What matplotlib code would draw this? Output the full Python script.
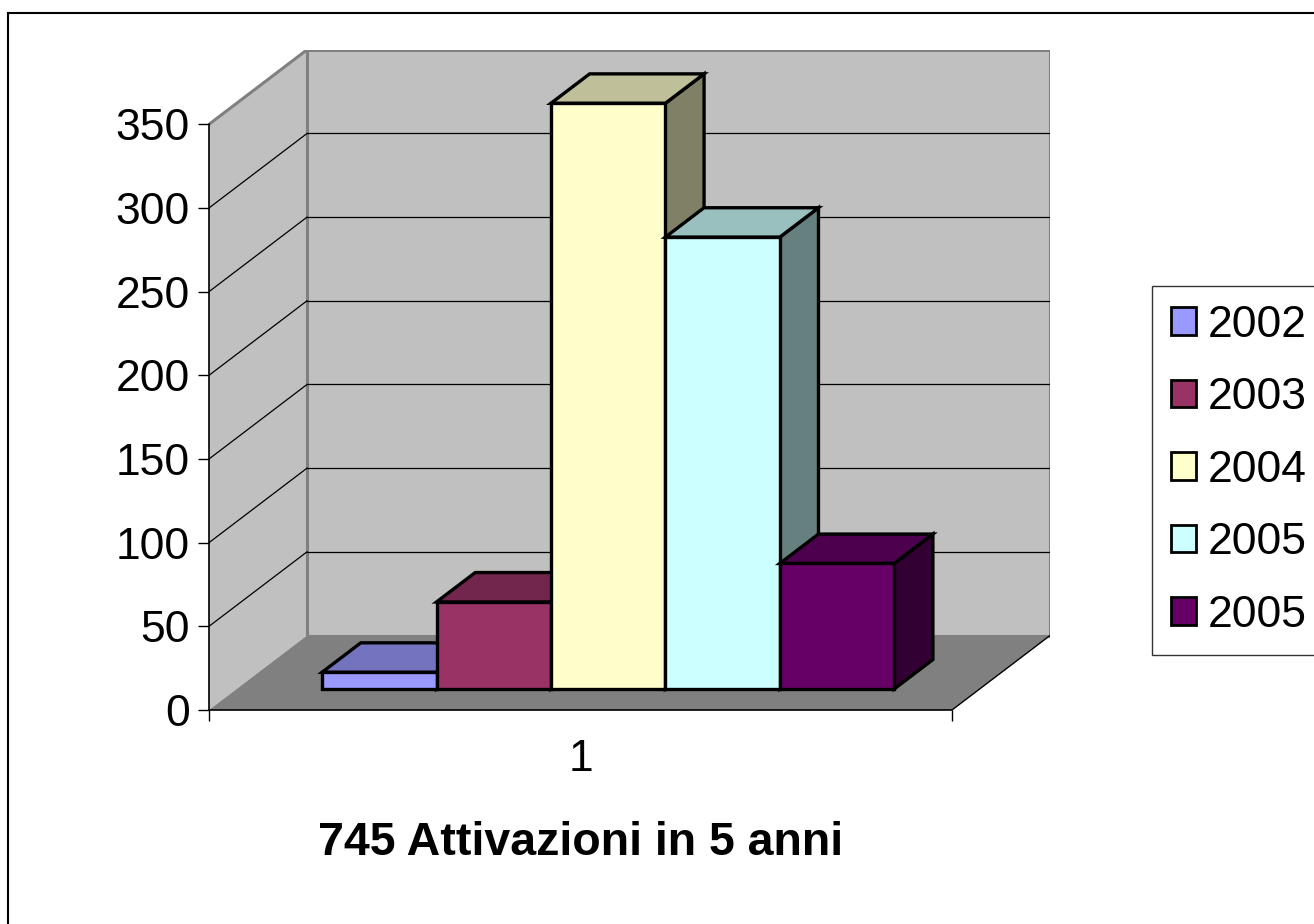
import matplotlib
matplotlib.use('Agg')
import matplotlib.pyplot as plt
from matplotlib.patches import Polygon, Patch
from matplotlib.lines import Line2D
from matplotlib.colors import to_rgb

# ---- data ----
years = ['2002', '2003', '2004', '2005', '2005']
values = [10, 52, 350, 270, 75]
colors = ['#9999FF', '#993366', '#FFFFCC', '#CCFFFF', '#660066']
yticks = [0, 50, 100, 150, 200, 250, 300, 350]
categories = ['1']
title = '745 Attivazioni in 5 anni'

plt.rcParams['font.family'] = ['Liberation Sans', 'DejaVu Sans']

W, H, DPI = 1314, 924, 100
fig = plt.figure(figsize=(W / DPI, H / DPI), dpi=DPI)
fig.patch.set_facecolor('white')

# layout (pixels)
X0, X1 = 209, 952
Y0, YTOP = 710, 124.3
DXP, DYP = 98, 74.5
VMAX = 350
ppv = (Y0 - YTOP) / VMAX
ppx = (X1 - X0) / 1.0
dx = DXP / ppx
dy = DYP / ppv

ax = fig.add_axes([X0 / W, 1 - Y0 / H, (X1 + DXP - X0) / W, (Y0 - YTOP + DYP) / H])
ax.set_xlim(0.5, 1.5 + dx)
ax.set_ylim(0, VMAX + dy)
ax.patch.set_visible(False)


def proj(x, v, f):
    return (x + f * dx, v + f * dy)


def shade(c, k):
    r, g, b = to_rgb(c)
    return (r * k, g * k, b * k)


WALL = '#C0C0C0'
FLOOR = '#808080'
GRAY = '#808080'

# walls
left_wall = Polygon([proj(0.5, 0, 0), proj(0.5, VMAX, 0), proj(0.5, VMAX, 1), proj(0.5, 0, 1)],
                    closed=True, facecolor=WALL, edgecolor='none', zorder=1)
ax.add_patch(left_wall)
back_wall = Polygon([proj(0.5, 0, 1), proj(1.5, 0, 1), proj(1.5, VMAX, 1), proj(0.5, VMAX, 1)],
                    closed=True, facecolor=WALL, edgecolor=GRAY, lw=2.2, zorder=1)
ax.add_patch(back_wall)
ax.plot(*zip(proj(0.5, VMAX, 0), proj(0.5, VMAX, 1)), color=GRAY, lw=2.2, zorder=1.5,
        solid_capstyle='projecting')
floor = Polygon([proj(0.5, 0, 0), proj(1.5, 0, 0), proj(1.5, 0, 1), proj(0.5, 0, 1)],
                closed=True, facecolor=FLOOR, edgecolor='none', zorder=2)
ax.add_patch(floor)
ax.plot(*zip(proj(1.5, 0, 0), proj(1.5, 0, 1)), color='black', lw=1, zorder=2.5)

# gridlines
for v in yticks[1:-1]:
    ax.plot(*zip(proj(0.5, v, 0), proj(0.5, v, 1)), color='black', lw=0.9, zorder=2.2)
    ax.plot(*zip(proj(0.5, v, 1), proj(1.5, v, 1)), color='black', lw=0.9, zorder=2.2)

# bars
GROUP = 0.77
bw = GROUP / len(values)
f0, f1 = 0.282, 0.677
for i, (v, c) in enumerate(zip(values, colors)):
    xl = 1 - GROUP / 2 + i * bw
    xr = xl + bw
    z = 3 + i * 0.1
    side = [proj(xr, 0, f0), proj(xr, 0, f1), proj(xr, v, f1), proj(xr, v, f0)]
    top = [proj(xl, v, f0), proj(xr, v, f0), proj(xr, v, f1), proj(xl, v, f1)]
    front = [proj(xl, 0, f0), proj(xr, 0, f0), proj(xr, v, f0), proj(xl, v, f0)]
    for pts, col in ((side, shade(c, 0.5)), (top, shade(c, 0.75)), (front, c)):
        ax.add_patch(Polygon(pts, closed=True, facecolor=col, edgecolor='black',
                             lw=2.4, joinstyle='miter', zorder=z))

# axes / ticks
for s in ('top', 'right'):
    ax.spines[s].set_visible(False)
ax.spines['left'].set_bounds(0, VMAX)
ax.spines['bottom'].set_bounds(0.5, 1.5)
ax.spines['left'].set_linewidth(1.2)
ax.spines['bottom'].set_linewidth(1.2)
ax.spines['left'].set_zorder(5)
ax.spines['bottom'].set_zorder(5)
ax.set_yticks(yticks)
ax.set_yticklabels([str(t) for t in yticks])
ax.tick_params(axis='y', direction='out', length=8, width=1, pad=6, labelsize=32)
ax.set_xticks([1])
ax.set_xticklabels(categories)
ax.set_xticks([0.5, 1.5], minor=True)
ax.tick_params(axis='x', which='major', length=0, pad=21, labelsize=32)
ax.tick_params(axis='x', which='minor', direction='out', length=8, width=1)

fig.text(581 / W, 1 - 855 / H, title, ha='center', va='baseline', fontsize=33.5,
         fontweight='bold')

# legend
handles = [Patch(facecolor=c, edgecolor='black', lw=2) for c in colors]
leg = fig.legend(handles, years, loc='upper left', bbox_to_anchor=(1152 / W, 1 - 286 / H),
                 fontsize=32, frameon=True, fancybox=False, borderpad=0.42,
                 handlelength=0.58, handleheight=0.58, handletextpad=0.25,
                 labelspacing=0.71, borderaxespad=0)
leg.get_frame().set_edgecolor('black')
leg.get_frame().set_linewidth(1)

# outer border (top and left visible)
fig.add_artist(Line2D([8 / W, 8 / W], [0, 1 - 13 / H], transform=fig.transFigure,
                      color='black', lw=1.5))
fig.add_artist(Line2D([8 / W, 1], [1 - 13 / H, 1 - 13 / H], transform=fig.transFigure,
                      color='black', lw=1.5))

fig.savefig('out.png', dpi=DPI)
